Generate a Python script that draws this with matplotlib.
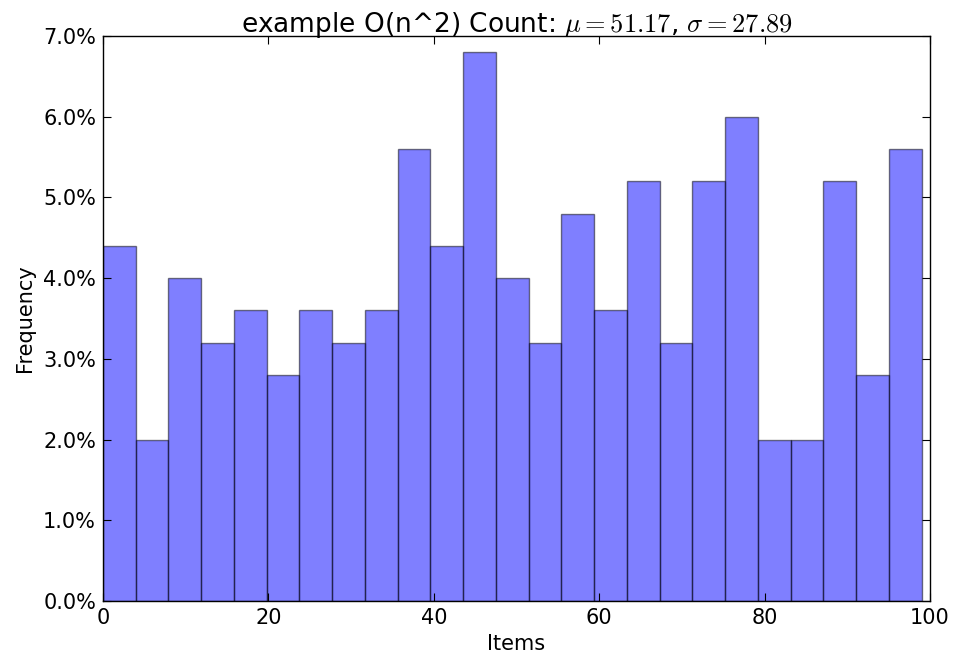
import matplotlib
matplotlib.use("Agg")
import matplotlib.pyplot as plt
import numpy as np
from matplotlib.ticker import FuncFormatter

# data: percentage of items per bin (25 bins from 0 to 99)
bin_start = 0.0
bin_end = 99.0
n_bins = 25
freq_pct = [4.4, 2.0, 4.0, 3.2, 3.6, 2.8, 3.6, 3.2, 3.6, 5.6, 4.4, 6.8, 4.0,
            3.2, 4.8, 3.6, 5.2, 3.2, 5.2, 6.0, 2.0, 2.0, 5.2, 2.8, 5.6]
title = r"example O(n^2) Count: $\mu=51.17$, $\sigma=27.89$"
x_label = "Items"
y_label = "Frequency"

plt.rcParams['mathtext.fontset'] = 'cm'
plt.rcParams['font.family'] = ['DejaVu Sans']

fig = plt.figure(figsize=(9.55, 6.61), dpi=100)
ax = fig.add_axes([103/955, 60/661, 827/955, 565/661])

edges = np.linspace(bin_start, bin_end, n_bins + 1)
widths = np.diff(edges)
vals = np.array(freq_pct) / 100.0
ax.bar(edges[:-1], vals, width=widths, align='edge', color='blue', alpha=0.5,
       edgecolor='black', linewidth=1.0)

ax.set_xlim(0, 100)
ax.set_ylim(0, 0.07)
ax.set_xticks([0, 20, 40, 60, 80, 100])
ax.set_yticks(np.arange(0, 0.0701, 0.01))
ax.yaxis.set_major_formatter(FuncFormatter(lambda v, p: f"{v*100:.1f}%"))
ax.tick_params(direction='in', top=True, right=True, labelsize=15, length=6, pad=5)
for s in ax.spines.values():
    s.set_linewidth(1.0)
ax.set_xlabel(x_label, fontsize=15, labelpad=4)
ax.set_ylabel(y_label, fontsize=15, labelpad=6)
ax.set_title(title, fontsize=19, pad=3)

fig.savefig("out.png", dpi=100)
